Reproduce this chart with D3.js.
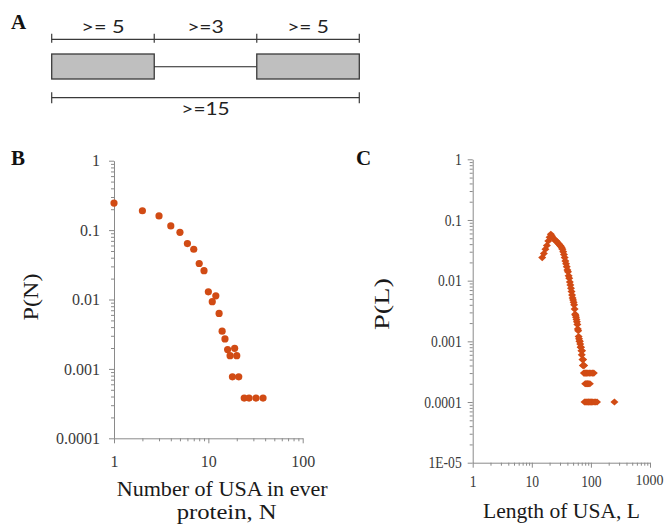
<!DOCTYPE html>
<html><head><meta charset="utf-8">
<script src="https://cdn.jsdelivr.net/npm/d3@7"></script>
<style>
html,body{margin:0;padding:0;background:#fff;}
svg{display:block;}
</style></head>
<body>
<svg id="chart" width="667" height="524"></svg>
<script>
// ---------- Panel A: schematic ----------
const segLabels = [">= 5", ">=3", ">= 5"];
const totalLabel = ">=15";
const segIsBlock = [true, false, true];

// ---------- Panel B data ----------
const nValues = [1,2,3,4,5,6,7,8,9,10,11,12,13,14,15,16,17,18,19,20,21,24,27,32,38];
const pN = [0.245,0.19,0.16,0.115,0.093,0.064,0.053,0.033,0.026,0.0129,0.0093,0.0113,0.0063,0.0035,0.0027,0.0019,0.00155,0.00077,0.00198,0.00155,0.00077,0.00038,0.00038,0.00038,0.00038];
const bYTicks = [1,0.1,0.01,0.001,0.0001];
const bYTickLabels = ["1","0.1","0.01","0.001","0.0001"];
const bXTicks = [1,10,100];
const bXTickLabels = ["1","10","100"];

// ---------- Panel C data ----------
const lValues = [15,16,17,18,19,20,21,22,23,24,25,26,27,28,29,30,31,32,33,34,35,36,37,38,39,40,
  41,42,43,44,45,46,47,48,49,50,51,52,53,54,55,56,57,58,59,60,61,62,63,64,65,66,67,68,69,70,
  71,72,73,74,75,76,77,78,79,80,81,82,83,84,85,86,87,88,89,90,91,92,94,95,96,98,100,101,104,106,108,112,114,120,127,250];
const pL = [0.024,0.028,0.033,0.038,0.045,0.052,0.058,0.054,0.050,0.048,0.046,0.045,0.043,0.041,0.040,0.038,0.037,0.035,0.033,0.030,
  0.027,0.024,0.021,0.019,0.017,0.015,0.014,0.012,0.011,0.0095,0.0085,0.0075,0.0066,0.0058,0.0052,0.0048,0.0044,0.0040,0.0034,0.0028,
  0.0027,0.0025,0.0023,0.0021,0.0019,0.0016,0.0015,0.0012,0.0011,0.0010,0.0010,0.0009,0.0008,0.0008,0.0007,0.0006,
  0.0007,0.0005,0.0004,0.0005,0.0004,0.0003,0.0004,0.0001,0.0003,0.0002,0.0001,0.0003,0.0002,0.0001,0.0003,0.0002,0.0001,0.0002,0.0003,0.0001,0.0002,0.0001,
  0.0003,0.0001,0.0002,0.0001,0.0003,0.0001,0.0001,0.0003,0.0001,0.0003,0.0001,0.0001,0.0001,0.0001];
const cYTicks = [1,0.1,0.01,0.001,0.0001,0.00001];
const cYTickLabels = ["1","0.1","0.01","0.001","0.0001","1E-05"];
const cXTicks = [1,10,100,1000];
const cXTickLabels = ["1","10","100","1000"];

const markColor = "#d14b14";
const axisColor = "#8a8a8a";
const tickTextColor = "#3a3a3a";
const serif = "'Liberation Serif','Times New Roman',serif";

const svg = d3.select("#chart");

[["A",11,29],["B",11,165],["C",356,165]].forEach(([t,x,y])=>{
  svg.append("text").attr("x",x).attr("y",y).text(t)
    .style("font-family",serif).style("font-weight","bold").style("font-size","21px").attr("fill","#111");
});

// ---- Panel A
(function(){
  const g = svg.append("g");
  const seg = d3.scaleBand().domain(d3.range(segLabels.length)).range([51.7,359.3]).padding(0);
  const stroke = "#3a3a3a";
  const topY = 39.3, capH = 5.5;
  g.append("line").attr("x1",seg.range()[0]).attr("x2",seg.range()[1]).attr("y1",topY).attr("y2",topY).attr("stroke",stroke).attr("stroke-width",1.2);
  const bounds = d3.range(segLabels.length).map(i=>seg(i)).concat([seg.range()[1]]);
  bounds.forEach(b=>{
    g.append("line").attr("x1",b).attr("x2",b).attr("y1",topY-capH).attr("y2",topY+capH-2).attr("stroke",stroke).attr("stroke-width",1.2);
  });
  const labW = [43.3,36.7,41.7];
  segLabels.forEach((l,i)=>{
    g.append("text").attr("x",seg(i)+seg.bandwidth()/2).attr("y",33.3).attr("text-anchor","middle")
      .attr("textLength",labW[i]).attr("lengthAdjust","spacingAndGlyphs")
      .style("font-family","Lato,'Open Sans',sans-serif").style("font-size","17px").attr("fill","#222").text(l);
  });
  segLabels.forEach((l,i)=>{
    if(segIsBlock[i]){
      g.append("rect").attr("x",seg(i)).attr("y",54).attr("width",seg.bandwidth()).attr("height",25)
        .attr("fill","#bfbfbf").attr("stroke","#3a3a3a").attr("stroke-width",1.3);
    } else {
      g.append("line").attr("x1",seg(i)).attr("x2",seg(i)+seg.bandwidth()).attr("y1",66.7).attr("y2",66.7)
        .attr("stroke","#222").attr("stroke-width",1.1);
    }
  });
  const botY = 97.7;
  g.append("line").attr("x1",seg.range()[0]).attr("x2",seg.range()[1]).attr("y1",botY).attr("y2",botY).attr("stroke",stroke).attr("stroke-width",1.2);
  [seg.range()[0],seg.range()[1]].forEach(b=>{
    g.append("line").attr("x1",b).attr("x2",b).attr("y1",botY-capH).attr("y2",botY+capH).attr("stroke",stroke).attr("stroke-width",1.2);
  });
  g.append("text").attr("x",(seg.range()[0]+seg.range()[1])/2).attr("y",115).attr("text-anchor","middle")
    .attr("textLength",48.3).attr("lengthAdjust","spacingAndGlyphs")
    .style("font-family","Lato,'Open Sans',sans-serif").style("font-size","17px").attr("fill","#222").text(totalLabel);
})();

function minorTicks(dom){
  const lo = Math.round(Math.log10(dom[0])), hi = Math.round(Math.log10(dom[1]));
  const out=[];
  for(let e=lo;e<hi;e++) for(let k=2;k<=9;k++) out.push(k*Math.pow(10,e));
  return out;
}

function styleAxis(sel){
  sel.selectAll("path,line").attr("stroke",axisColor).attr("stroke-width",1);
  sel.selectAll("text").attr("fill",tickTextColor).style("font-family",serif).style("font-size","16px");
}

function drawPanel(o){
  const x = d3.scaleLog().domain(o.xDom).range(o.xRange);
  const y = d3.scaleLog().domain(o.yDom).range(o.yRange);
  const g = svg.append("g");
  g.append("g").attr("transform",`translate(0,${o.yRange[0]})`)
    .call(d3.axisBottom(x).tickValues(minorTicks(o.xDom)).tickFormat("").tickSize(3).tickSizeOuter(0))
    .call(s=>{s.select(".domain").remove(); s.selectAll("line").attr("stroke",axisColor);});
  g.append("g").attr("transform",`translate(${o.xRange[0]},0)`)
    .call(d3.axisLeft(y).tickValues(minorTicks(o.yDom)).tickFormat("").tickSize(3).tickSizeOuter(0))
    .call(s=>{s.select(".domain").remove(); s.selectAll("line").attr("stroke",axisColor);});
  const xa = g.append("g").attr("transform",`translate(0,${o.yRange[0]})`)
    .call(d3.axisBottom(x).tickValues(o.xTicks).tickFormat((d,i)=>o.xTickLabels[i]).tickSize(5).tickSizeOuter(0).tickPadding(o.xPad))
    .call(styleAxis);
  const ya = g.append("g").attr("transform",`translate(${o.xRange[0]},0)`)
    .call(d3.axisLeft(y).tickValues(o.yTicks).tickFormat((d,i)=>o.yTickLabels[i]).tickSize(5).tickSizeOuter(0).tickPadding(o.yPad))
    .call(styleAxis);
  const nx = o.xTicks.length;
  if(o.squeeze){
    [xa,ya].forEach(a=>a.selectAll("text").each(function(d,i){
      if(o.lastXEnd && a===xa && i===nx-1) return;
      const L=this.getComputedTextLength();
      d3.select(this).attr("textLength",L*o.squeeze).attr("lengthAdjust","spacingAndGlyphs");
    }));
  }
  if(o.lastXEnd){
    const last = xa.selectAll(".tick").filter((d,i,n)=>i===n.length-1);
    const tx = x(o.xTicks[nx-1]);
    last.select("text").attr("text-anchor","end").attr("x",o.lastXEnd - tx).style("font-size","14px");
  }
  const data = o.xs.map((v,i)=>({x:v,y:o.ys[i]}));
  if(o.shape==="circle"){
    g.append("g").selectAll("circle").data(data).join("circle")
      .attr("cx",d=>x(d.x)).attr("cy",d=>y(d.y)).attr("r",3.6).attr("fill",markColor);
  } else {
    g.append("g").selectAll("path").data(data).join("path")
      .attr("d","M0,-3.6L4,0L0,3.6L-4,0Z")
      .attr("transform",d=>`translate(${x(d.x)},${y(d.y)})`).attr("fill",markColor);
  }
  o.xTitles.forEach(t=>{
    g.append("text").attr("x",t.x).attr("y",t.y).attr("textLength",t.w).attr("lengthAdjust","spacingAndGlyphs")
      .style("font-family",serif).style("font-size","20px").attr("fill","#1a1a1a").text(t.text);
  });
  g.append("text").attr("transform","rotate(-90)").attr("x",-o.yTitle.cy).attr("y",o.yTitle.x)
    .attr("text-anchor","middle").attr("textLength",o.yTitle.w).attr("lengthAdjust","spacingAndGlyphs")
    .style("font-family",serif).style("font-size","21px").attr("fill","#1a1a1a").text(o.yTitle.text);
}

drawPanel({
  xDom:[1,100], xRange:[114,302.7], yDom:[1e-4,1], yRange:[438.3,160.7],
  xTicks:bXTicks, xTickLabels:bXTickLabels, yTicks:bYTicks, yTickLabels:bYTickLabels,
  xPad:12, yPad:9, xs:nValues, ys:pN, shape:"circle",
  xTitles:[{text:"Number of USA in ever",x:116.7,y:496,w:211},{text:"protein, N",x:176.7,y:519,w:100}],
  yTitle:{text:"P(N)",x:37.5,cy:297,w:47}
});

drawPanel({
  xDom:[1,1000], xRange:[472.7,650], yDom:[1e-5,1], yRange:[462.7,159.3],
  xTicks:cXTicks, xTickLabels:cXTickLabels, yTicks:cYTicks, yTickLabels:cYTickLabels,
  xPad:7.6, yPad:6, xs:lValues, ys:pL, shape:"diamond", squeeze:0.85, lastXEnd:663,
  xTitles:[{text:"Length of USA, L",x:483,y:518,w:157}],
  yTitle:{text:"P(L)",x:388.5,cy:304,w:52}
});
</script>
</body></html>
